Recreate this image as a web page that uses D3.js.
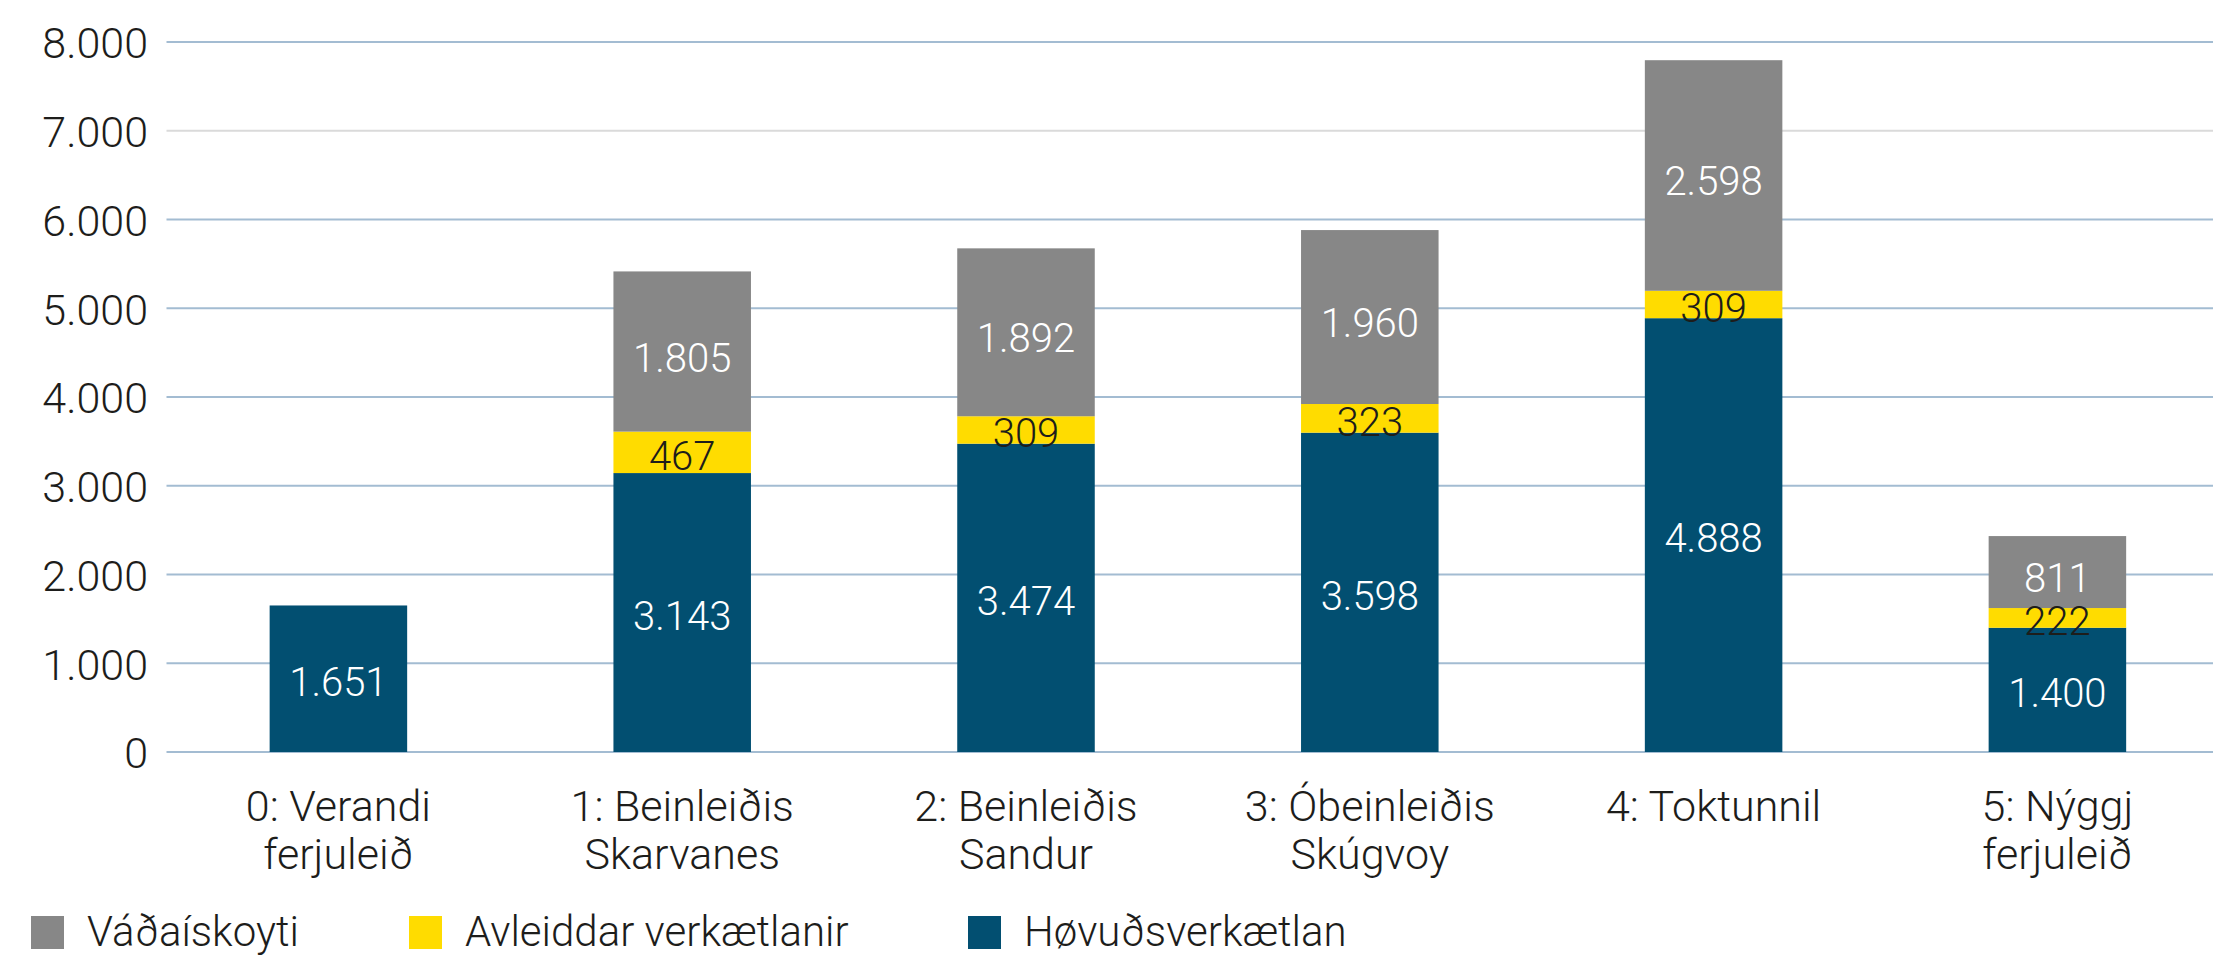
<!DOCTYPE html>
<html>
<head>
<meta charset="utf-8">
<script src="https://cdn.jsdelivr.net/npm/d3@7.9.0/dist/d3.min.js"></script>
<style>
  html, body { margin: 0; padding: 0; background: #fff; }
  svg { display: block; font-family: Roboto, "Liberation Sans", sans-serif; font-weight: 300; }
</style>
</head>
<body>
<svg id="chart"></svg>
<script>
// categories (two-line labels split by "|")
const categories = ["0: Verandi|ferjuleið", "1: Beinleiðis|Skarvanes", "2: Beinleiðis|Sandur",
                    "3: Óbeinleiðis|Skúgvoy", "4: Toktunnil", "5: Nýggj|ferjuleið"];

// series values
const hovudsverkaetlan = [1651, 3143, 3474, 3598, 4888, 1400];
const avleiddar        = [0, 467, 309, 323, 309, 222];
const vadaiskoyti      = [0, 1805, 1892, 1960, 2598, 811];

const seriesNames  = ["Høvuðsverkætlan", "Avleiddar verkætlanir", "Váðaískoyti"];
const legendOrder  = ["Váðaískoyti", "Avleiddar verkætlanir", "Høvuðsverkætlan"];
const yTicks = [0, 1000, 2000, 3000, 4000, 5000, 6000, 7000, 8000];

const colors = {
  "Høvuðsverkætlan": "#024f71",
  "Avleiddar verkætlanir": "#ffdc00",
  "Váðaískoyti": "#878787"
};
const labelColors = {
  "Høvuðsverkætlan": "#ffffff",
  "Avleiddar verkætlanir": "#1d1d1b",
  "Váðaískoyti": "#ffffff"
};

const width = 2213, height = 957;
const plotLeft = 166.5;

const fo = d3.formatLocale({ decimal: ",", thousands: ".", grouping: [3], currency: ["", ""] });
const fmt = fo.format(",d");

const svg = d3.select("#chart").attr("width", width).attr("height", height);

const x = d3.scaleBand()
  .domain(categories)
  .range([plotLeft, plotLeft + 6 * 343.8])
  .paddingInner(0.6)
  .paddingOuter(0.3);

const y = d3.scaleLinear().domain([0, 8000]).range([752, 42]);

// gridlines
svg.append("g")
  .selectAll("line")
  .data(yTicks)
  .join("line")
  .attr("x1", plotLeft)
  .attr("x2", width)
  .attr("y1", d => y(d))
  .attr("y2", d => y(d))
  .attr("stroke", d => d === 7000 ? "#dadada" : "#a3bcd2")
  .attr("stroke-width", 2);

// y axis labels
svg.append("g")
  .selectAll("text")
  .data(yTicks)
  .join("text")
  .attr("x", 148)
  .attr("y", d => y(d))
  .attr("dy", "0.38em")
  .attr("text-anchor", "end")
  .attr("font-size", 43)
  .attr("fill", "#1d1d1b")
  .text(d => fmt(d));

// stacked data
const rows = categories.map((c, i) => ({
  cat: c,
  "Høvuðsverkætlan": hovudsverkaetlan[i],
  "Avleiddar verkætlanir": avleiddar[i],
  "Váðaískoyti": vadaiskoyti[i]
}));
const stacked = d3.stack().keys(seriesNames)(rows);

const layers = svg.append("g")
  .selectAll("g")
  .data(stacked)
  .join("g")
  .attr("fill", d => colors[d.key]);

layers.selectAll("rect")
  .data(d => d.filter(s => s[1] > s[0]))
  .join("rect")
  .attr("x", d => x(d.data.cat))
  .attr("width", x.bandwidth())
  .attr("y", d => y(d[1]))
  .attr("height", d => y(d[0]) - y(d[1]));

// value labels
const labels = svg.append("g");
stacked.forEach(layer => {
  labels.selectAll(null)
    .data(layer.filter(s => s[1] > s[0]))
    .join("text")
    .attr("x", d => x(d.data.cat) + x.bandwidth() / 2)
    .attr("y", d => y((d[0] + d[1]) / 2))
    .attr("dy", layer.key === "Váðaískoyti" ? "0.5em" : "0.43em")
    .attr("text-anchor", "middle")
    .attr("font-size", 40)
    .attr("fill", labelColors[layer.key])
    .text(d => fmt(d[1] - d[0]));
});

// x axis labels
const xl = svg.append("g")
  .selectAll("text")
  .data(categories)
  .join("text")
  .attr("x", d => x(d) + x.bandwidth() / 2)
  .attr("y", 821)
  .attr("text-anchor", "middle")
  .attr("font-size", 43)
  .attr("fill", "#1d1d1b");
xl.selectAll("tspan")
  .data(d => d.split("|").map((t, i) => ({ t, i })))
  .join("tspan")
  .attr("x", function () { return d3.select(this.parentNode).attr("x"); })
  .attr("dy", d => d.i === 0 ? 0 : 48)
  .text(d => d.t);

// legend
const legendX = [31, 409, 968];
const leg = svg.append("g")
  .selectAll("g")
  .data(legendOrder)
  .join("g")
  .attr("transform", (d, i) => `translate(${legendX[i]},916)`);
leg.append("rect")
  .attr("width", 33)
  .attr("height", 33)
  .attr("fill", d => colors[d]);
leg.append("text")
  .attr("x", 56)
  .attr("y", 30)
  .attr("font-size", 42)
  .attr("fill", "#1d1d1b")
  .text(d => d);
</script>
</body>
</html>
